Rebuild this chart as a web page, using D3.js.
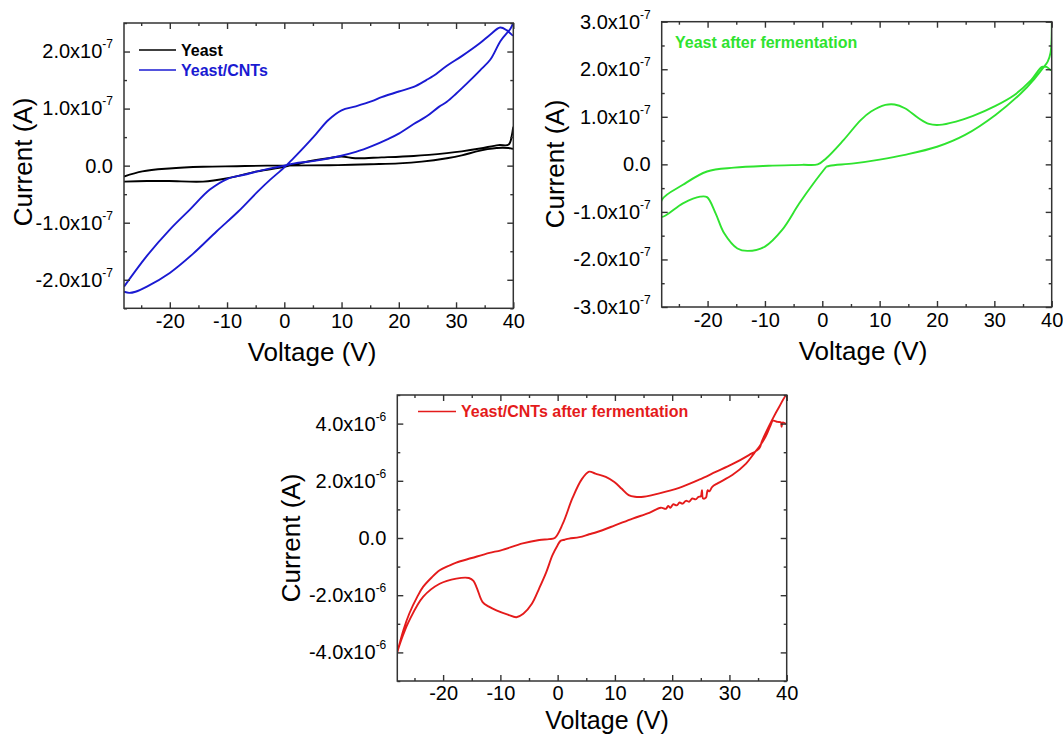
<!DOCTYPE html>
<html><head><meta charset="utf-8">
<script src="https://cdn.jsdelivr.net/npm/d3@7"></script>
<style>html,body{margin:0;padding:0;background:#fff;} svg{display:block;}</style>
</head><body>
<svg id="chart" width="1063" height="737"></svg>
<script>
// ---------- tick values / labels ----------
const xTicks = [-20, -10, 0, 10, 20, 30, 40];
const xMinor = [-25, -15, -5, 5, 15, 25, 35];
const xDomain = [-28, 40];
const yTicksA = [-2, -1, 0, 1, 2];            // x10^-7 A (Yeast / Yeast/CNTs)
const yMinorA = [-2.5, -1.5, -0.5, 0.5, 1.5, 2.5];
const yTicksB = [-3, -2, -1, 0, 1, 2, 3];     // x10^-7 A (Yeast after fermentation)
const yMinorB = [-2.5, -1.5, -0.5, 0.5, 1.5, 2.5];
const yTicksC = [-4, -2, 0, 2, 4];            // x10^-6 A (Yeast/CNTs after fermentation)
const yMinorC = [-5, -3, -1, 1, 3, 5];
const xTitle = "Voltage (V)";
const yTitle = "Current (A)";

// ---------- series (V in volts, I in units of the panel exponent) ----------
// Yeast (x10^-7 A)
const yeastV = [-28, -24.8, -20.1, -14.2, -8.3, -3, 0, 4, 9.4, 15, 20, 24, 28.4, 31, 33.6, 35.5, 37.1, 39.2, 40,
                40, 39.8, 39.2, 37.4, 34.2, 31, 28.4, 22.6, 17, 12.4, 10, 7.7, 3.5, 0, -4.7, -9.9, -14.2, -20.1, -24, -28];
const yeastI = [-0.19, -0.10, -0.05, -0.02, -0.01, 0, 0, 0.005, 0.01, 0.025, 0.04, 0.07, 0.13, 0.18, 0.25, 0.29, 0.31, 0.31, 0.30,
                0.68, 0.56, 0.37, 0.36, 0.30, 0.25, 0.22, 0.17, 0.145, 0.13, 0.16, 0.13, 0.06, -0.02, -0.10, -0.22, -0.28, -0.27, -0.27, -0.28];
// Yeast/CNTs (x10^-7 A)
const cntV = [-28, -24, -20, -16.5, -13, -9.9, -7, -4.7, -2, 0, 1.8, 5, 9.4, 12.5, 15.5, 18, 20, 22.6, 24.8, 27, 28.4, 30, 32, 34.2, 36, 37.8, 39.5, 40,
              40, 38.9, 37.7, 36, 34.2, 31, 28.4, 26, 24.8, 22.6, 20, 17, 15.3, 12.5, 10, 7.7, 5.5, 3.5, 1.5, 0, -2.5, -4.7, -8, -11.8, -16, -20, -24, -26, -27.1, -28];
const cntI = [-2.12, -1.58, -1.12, -0.77, -0.42, -0.23, -0.16, -0.10, -0.04, 0, 0.04, 0.08, 0.16, 0.24, 0.35, 0.46, 0.56, 0.73, 0.86, 1.03, 1.12, 1.26, 1.45, 1.67, 1.86, 2.19, 2.40, 2.49,
              2.28, 2.37, 2.42, 2.30, 2.15, 1.92, 1.75, 1.57, 1.50, 1.38, 1.30, 1.20, 1.13, 1.04, 0.97, 0.80, 0.55, 0.33, 0.12, -0.03, -0.25, -0.46, -0.80, -1.15, -1.55, -1.88, -2.12, -2.21, -2.23, -2.21];
// Yeast after fermentation (x10^-7 A)
const fermV = [0.7, 1.3, 5.5, 10, 14.4, 20, 24.9, 30.2, 34.6, 37, 38.5, 39.3, 39.8, 40, 40,
               40, 39.1, 38.3, 36.4, 33.5, 30.2, 26.3, 23.3, 20.4, 18.6, 16.8, 14.4, 12.6, 11, 8.5, 6.7, 3.7, 0.7, -0.8, -3.5, -9.4, -15.4, -20.1, -24.3, -28,
               -28, -24.3, -21.3, -20.1, -18.6, -17.1, -14.8, -13, -10, -7, -4, -1.1, 0.7];
const fermI = [-0.05, -0.03, 0.02, 0.10, 0.20, 0.37, 0.62, 1.04, 1.49, 1.80, 2.03, 2.16, 2.35, 2.7, 3.3,
               1.98, 2.05, 2.05, 1.77, 1.46, 1.23, 1.02, 0.90, 0.83, 0.85, 0.97, 1.18, 1.26, 1.25, 1.11, 0.93, 0.51, 0.13, 0, -0.01, -0.03, -0.07, -0.15, -0.43, -0.75,
               -1.10, -0.82, -0.68, -0.69, -1.03, -1.45, -1.77, -1.82, -1.73, -1.38, -0.82, -0.33, -0.05];
// Yeast/CNTs after fermentation (x10^-6 A)
const cntFermV = [-28, -26.9, -25.9, -24.5, -23.5, -22, -20.6, -19, -17.7, -15, -11.9, -9.9, -6.1, -3.2, -1.5, -0.5, 0.9, 2.6, 4.2, 5.5, 6.6, 8.4, 9.9, 11.2, 12.4, 13.5, 15, 16.5, 18.9, 21.8, 24.7, 27.6, 30.5, 33.4, 35.2, 35.7, 37.5, 38.7, 40,
                  40, 39.3, 39.1, 39, 38.4, 37.6, 37.2, 36.3, 35.2, 34.3, 32.9, 30.5, 28, 27, 26.5, 26.2, 25.9, 25.4, 25.2, 25, 24.6, 24.1, 23.5, 23, 22.4, 21.8, 21.3, 20.8, 20.2, 19.7, 19.3, 18.9, 18, 16, 13.1, 10, 6.9, 5.5, 3.8, 2, 1.2, 0.5,
                  0, -0.9, -2, -3.2, -4.5, -6, -7.2, -8.7, -10.7, -12, -13.1, -14.1, -14.7, -15.5, -17.7, -20.6, -23.5, -25.9, -27, -28];
const cntFermI = [-4.0, -3.2, -2.64, -2.05, -1.71, -1.38, -1.13, -0.97, -0.86, -0.70, -0.52, -0.43, -0.19, -0.07, -0.04, 0.0, 0.5, 1.4, 2.05, 2.32, 2.25, 2.14, 1.96, 1.72, 1.50, 1.44, 1.44, 1.50, 1.62, 1.80, 2.04, 2.31, 2.58, 2.90, 3.13, 3.40, 4.15, 4.59, 5.0,
                  4.0, 4.04, 3.89, 4.04, 4.06, 4.10, 3.95, 3.54, 3.19, 2.96, 2.60, 2.20, 1.92, 1.79, 1.63, 1.67, 1.41, 1.38, 1.67, 1.46, 1.44, 1.35, 1.38, 1.27, 1.30, 1.20, 1.24, 1.14, 1.18, 1.06, 1.12, 1.02, 1.06, 0.88, 0.68, 0.44, 0.21, 0.13, 0.03, -0.02, -0.06, -0.10,
                  -0.25, -0.6, -1.2, -1.75, -2.3, -2.65, -2.77, -2.68, -2.53, -2.40, -2.24, -1.75, -1.50, -1.40, -1.42, -1.60, -2.06, -2.88, -3.40, -3.98];

// ---------- layout ----------
const FONT = '"Liberation Sans", Arial, Helvetica, sans-serif';
const svg = d3.select("#chart");

const panels = [
  { id: "a", x0: 124, x1: 513.3, y0: 23, y1: 308.3, yDom: [-2.5, 2.5], yTicks: yTicksA, yMinor: yMinorA, exp: "-7",
    xt: [312, 361], yt: [23, 162], xLabPad: 6, titleSize: 26,
    series: [
      { v: yeastV, i: yeastI, color: "#000000", name: "Yeast" },
      { v: cntV, i: cntI, color: "#1a1ad2", name: "Yeast/CNTs" }
    ],
    legend: { x: 139, y: 50, dy: 20, lineLen: 37, line: true } },
  { id: "b", x0: 661.7, x1: 1051.7, y0: 21.7, y1: 307, yDom: [-3, 3], yTicks: yTicksB, yMinor: yMinorB, exp: "-7",
    xt: [863, 360], yt: [555, 164], xLabPad: 6, titleSize: 26,
    series: [ { v: fermV, i: fermI, color: "#2fe32f", name: "Yeast after fermentation" } ],
    legend: { x: 675, y: 42, dy: 20, line: false } },
  { id: "c", x0: 397.3, x1: 786.7, y0: 395, y1: 681, yDom: [-5, 5], yTicks: yTicksC, yMinor: yMinorC, exp: "-6",
    xt: [607, 729], yt: [291, 538], xLabPad: 5, titleSize: 25,
    series: [ { v: cntFermV, i: cntFermI, color: "#e41b1b", name: "Yeast/CNTs after fermentation" } ],
    legend: { x: 418, y: 411.5, dy: 20, lineLen: 38, line: true } }
];

const tickColor = "#333";

panels.forEach(p => {
  const x = d3.scaleLinear().domain(xDomain).range([p.x0, p.x1]);
  const y = d3.scaleLinear().domain(p.yDom).range([p.y1, p.y0]);
  const g = svg.append("g");

  // clip
  g.append("clipPath").attr("id", "clip-" + p.id)
    .append("rect").attr("x", p.x0).attr("y", p.y0).attr("width", p.x1 - p.x0).attr("height", p.y1 - p.y0);

  // series
  const line = d3.line().x(d => x(d[0])).y(d => y(d[1])).curve(d3.curveCatmullRom.alpha(0.5));
  const lines = g.append("g").attr("clip-path", "url(#clip-" + p.id + ")");
  p.series.forEach(s => {
    const pts = s.v.map((v, k) => [v, s.i[k]]);
    lines.append("path").attr("d", line(pts)).attr("fill", "none")
      .attr("stroke", s.color).attr("stroke-width", 1.9).attr("stroke-linejoin", "round");
  });

  // axes (ticks inward on all four sides)
  function styleAxis(sel) {
    sel.select(".domain").remove();
    sel.selectAll(".tick line").attr("stroke", tickColor).attr("stroke-width", 1.4);
    sel.selectAll("text").attr("fill", "#000").attr("font-family", FONT).attr("font-size", 20);
  }
  const fmtNone = () => "";
  // bottom
  g.append("g").attr("transform", `translate(0,${p.y1})`)
    .call(d3.axisBottom(x).tickValues(xTicks).tickSize(-6).tickPadding(p.xLabPad).tickFormat(d => String(d)))
    .call(styleAxis);
  g.append("g").attr("transform", `translate(0,${p.y1})`)
    .call(d3.axisBottom(x).tickValues(xMinor).tickSize(-3).tickFormat(fmtNone)).call(styleAxis);
  // top
  g.append("g").attr("transform", `translate(0,${p.y0})`)
    .call(d3.axisTop(x).tickValues(xTicks).tickSize(-6).tickFormat(fmtNone)).call(styleAxis);
  g.append("g").attr("transform", `translate(0,${p.y0})`)
    .call(d3.axisTop(x).tickValues(xMinor).tickSize(-3).tickFormat(fmtNone)).call(styleAxis);
  // left with labels
  const left = g.append("g").attr("transform", `translate(${p.x0},0)`)
    .call(d3.axisLeft(y).tickValues(p.yTicks).tickSize(-6).tickPadding(11).tickFormat(d => d))
    .call(styleAxis);
  left.selectAll(".tick text").each(function(d) {
    const t = d3.select(this);
    t.text(null);
    if (d === 0) { t.append("tspan").text("0.0"); return; }
    t.append("tspan").text(d.toFixed(1) + "x10");
    t.append("tspan").attr("font-size", 12).attr("dy", -10).text(p.exp);
  });
  g.append("g").attr("transform", `translate(${p.x0},0)`)
    .call(d3.axisLeft(y).tickValues(p.yMinor).tickSize(-3).tickFormat(fmtNone)).call(styleAxis);
  // right
  g.append("g").attr("transform", `translate(${p.x1},0)`)
    .call(d3.axisRight(y).tickValues(p.yTicks).tickSize(-6).tickFormat(fmtNone)).call(styleAxis);
  g.append("g").attr("transform", `translate(${p.x1},0)`)
    .call(d3.axisRight(y).tickValues(p.yMinor).tickSize(-3).tickFormat(fmtNone)).call(styleAxis);

  // frame
  g.append("rect").attr("x", p.x0).attr("y", p.y0).attr("width", p.x1 - p.x0).attr("height", p.y1 - p.y0)
    .attr("fill", "none").attr("stroke", tickColor).attr("stroke-width", 1.5);

  // titles
  g.append("text").attr("x", p.xt[0]).attr("y", p.xt[1]).attr("text-anchor", "middle")
    .attr("font-family", FONT).attr("font-size", p.titleSize).attr("fill", "#000").text(xTitle);
  g.append("text").attr("transform", `translate(${p.yt[0] + 9},${p.yt[1]}) rotate(-90)`).attr("text-anchor", "middle")
    .attr("font-family", FONT).attr("font-size", 26).attr("fill", "#000").text(yTitle);

  // legend
  const L = p.legend;
  p.series.forEach((s, k) => {
    const ly = L.y + k * L.dy;
    let tx = L.x;
    if (L.line) {
      g.append("line").attr("x1", L.x).attr("x2", L.x + L.lineLen).attr("y1", ly).attr("y2", ly)
        .attr("stroke", s.color).attr("stroke-width", 1.6);
      tx = L.x + L.lineLen + 5;
    }
    g.append("text").attr("x", tx).attr("y", ly + 5.5).attr("font-family", FONT).attr("font-size", 16)
      .attr("font-weight", "bold").attr("fill", s.color === "#000000" ? "#000" : s.color).text(s.name);
  });
});
</script>
</body></html>
